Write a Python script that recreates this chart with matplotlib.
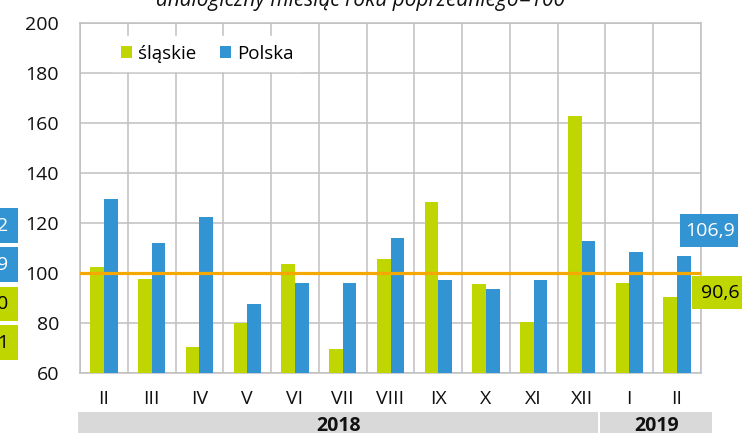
import numpy as np
import matplotlib
matplotlib.use('Agg')
import matplotlib.pyplot as plt
from matplotlib.patches import Rectangle

# data
months = ['II', 'III', 'IV', 'V', 'VI', 'VII', 'VIII', 'IX', 'X', 'XI', 'XII', 'I', 'II']
years = ['2018', '2019']
year_span = [(0, 10), (11, 12)]   # first and last month index of each year
slaskie = [102.5, 97.6, 70.5, 79.9, 103.6, 69.6, 105.5, 128.3, 95.7, 80.5, 162.8, 96.1, 90.6]
polska = [129.7, 111.9, 122.5, 87.5, 95.9, 96.0, 113.9, 97.1, 93.7, 97.2, 112.7, 108.4, 106.9]
left_labels = ['2', '9', '0', '1']   # cut-off labels of the neighbouring chart

GREEN = '#BFD600'
BLUE = '#3394D4'
ORANGE = '#F5A800'
GRID = '#C0C0C0'
FS = 14

plt.rcParams['font.family'] = ['Open Sans', 'DejaVu Sans']

W, H = 742, 433
fig = plt.figure(figsize=(W / 100, H / 100), dpi=100)
ax = fig.add_axes([80 / W, 60 / H, 621 / W, 350 / H])

x = np.arange(len(months))
w = 0.286
ax.bar(x - w / 2, slaskie, w, color=GREEN, label='śląskie', zorder=3)
ax.bar(x + w / 2, polska, w, color=BLUE, label='Polska', zorder=3)
ax.axhline(100, color=ORANGE, lw=2.3, zorder=4)

ax.set_xlim(-0.5, len(months) - 0.5)
ax.set_ylim(60, 200)
ax.set_yticks(np.arange(60, 201, 20))
ax.set_xticks(x)
ax.set_xticklabels(months)
ax.set_xticks(np.arange(-0.5, len(months), 0.5), minor=True)
ax.tick_params(axis='both', which='both', length=0, labelsize=FS, colors='#111111')
ax.tick_params(axis='x', pad=12)
ax.tick_params(axis='y', pad=15)
ax.grid(axis='x', which='minor', color=GRID, lw=1.1, zorder=0)
ax.grid(axis='y', which='major', color=GRID, lw=1.1, zorder=0)
for s in ax.spines.values():
    s.set_color(GRID)
    s.set_linewidth(1.1)

leg = ax.legend(loc='upper left', bbox_to_anchor=(0.052, 0.962), ncol=2, fontsize=FS - 0.5,
                frameon=True, framealpha=1, edgecolor='white', fancybox=False,
                handlelength=0.6, handleheight=0.6, handletextpad=0.3,
                columnspacing=1.3, borderaxespad=0, borderpad=0.45)
leg.set_zorder(5)


def box(x0, y0, x1, y1, color):
    fig.add_artist(Rectangle((x0 / W, 1 - y1 / H), (x1 - x0) / W, (y1 - y0) / H,
                             transform=fig.transFigure, color=color, lw=0))


def fmt(v):
    return f'{v:.1f}'.replace('.', ',')


# value labels for the last month
box(680, 214, 738, 247, BLUE)
fig.text(710 / W, 1 - 231 / H, fmt(polska[-1]), color='white', fontsize=FS,
         ha='center', va='center')
box(692, 276, 750, 309, GREEN)
fig.text(720 / W, 1 - 293 / H, fmt(slaskie[-1]), color='black', fontsize=FS,
         ha='center', va='center')

# cut-off labels at the left edge
for lab, (y0, y1, col, tc) in zip(left_labels, [(208, 243, BLUE, 'white'),
                                                 (247, 282, BLUE, 'white'),
                                                 (287, 321, GREEN, 'black'),
                                                 (325, 360, GREEN, 'black')]):
    box(-10, y0, 18, y1, col)
    fig.text(8 / W, 1 - (y0 + y1) / 2 / H, lab, color=tc, fontsize=FS,
             ha='right', va='center')

# year band under the month labels
step = 621 / len(months)
for yr, (a, b) in zip(years, year_span):
    x0 = 80 + a * step - 2 if a == 0 else 80 + a * step - 5
    x1 = 80 + (b + 1) * step - 7 if b < len(months) - 1 else 712
    box(x0, 412, x1, 440, '#D9D9D9')
    fig.text((x0 + x1) / 2 / W, 1 - 426 / H, yr, fontsize=FS, fontweight='bold',
             ha='center', va='center', color='#111111')

# title, cut off at the top
fig.text(361 / W, 1 - 6 / H, 'analogiczny miesiąc roku poprzedniego=100',
         fontsize=15, style='italic', ha='center', va='baseline', color='#111111')

fig.savefig('out.png', dpi=100)
